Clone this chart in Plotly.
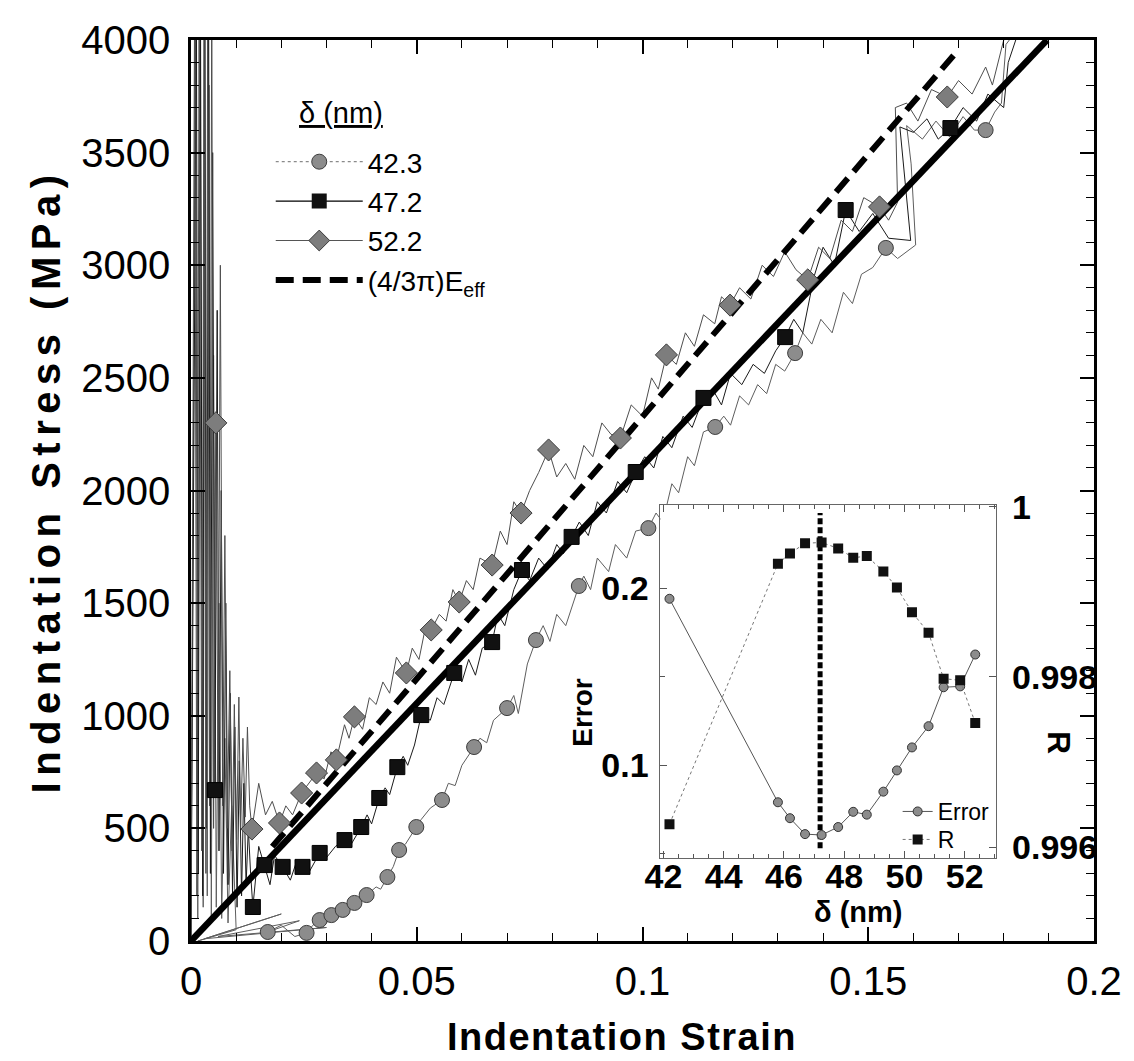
import plotly.graph_objects as go

FONT = "Liberation Sans, Arial, sans-serif"

# ---------------- main panel: stress-strain curves ----------------
# delta = 42.3 nm (gray circles)
s423_line_x = [0, 0.0010, 0.0015, 0.0020, 0.0027, 0.0031, 0.0036, 0.0040, 0.0045, 0.0050, 0.0056,
               0.0062, 0.0068, 0.0075, 0.0082, 0.0090, 0.0100, 0.0015, 0.020, 0.003, 0.030,
               0.006, 0.024, 0.0170, 0.020, 0.023, 0.0256, 0.027, 0.0285, 0.030, 0.0311, 0.032, 0.0336,
               0.035, 0.0362, 0.0375, 0.0389, 0.041, 0.042, 0.0435, 0.0448, 0.0461, 0.0475, 0.0499,
               0.051, 0.053, 0.0556, 0.057, 0.0585, 0.060, 0.0627, 0.064, 0.0655, 0.067, 0.0700, 0.0715,
               0.0725, 0.0745, 0.0764, 0.078, 0.0795, 0.081, 0.083, 0.0859, 0.087, 0.0885, 0.090, 0.0925,
               0.094, 0.0965, 0.0985, 0.1013, 0.103, 0.1045, 0.1065, 0.108, 0.110, 0.1115, 0.1135, 0.1161,
               0.118, 0.1195, 0.1215, 0.1235, 0.1255, 0.1275, 0.1295, 0.1315, 0.1338, 0.1355, 0.1375,
               0.1395, 0.142, 0.1445, 0.1465, 0.1485, 0.151, 0.1539, 0.1565, 0.1605, 0.1595, 0.1585,
               0.162, 0.165, 0.168, 0.171, 0.1735, 0.1760, 0.178, 0.1795, 0.1805, 0.182, 0.1850]
s423_line_y = [0, 4200, 100, 4200, 150, 4200, 200, 3800, 100, 2600, 150,
               1500, 100, 900, 80, 600, 50, 0, 120, 10, 60,
               20, 90, 40, 70, 20, 36, 70, 93, 80, 115, 110, 138,
               150, 169, 185, 204, 240, 230, 284, 330, 404, 430, 506,
               540, 590, 626, 700, 690, 780, 861, 900, 880, 980, 1034, 1090,
               1010, 1230, 1336, 1400, 1330, 1450, 1400, 1576, 1620, 1560, 1700, 1640,
               1760, 1700, 1820, 1833, 1900, 1860, 2030, 1990, 2150, 2110, 2260, 2282,
               2330, 2290, 2420, 2380, 2470, 2430, 2560, 2530, 2610, 2700, 2650,
               2760, 2700, 2880, 2830, 2960, 2990, 3077, 3030, 3090, 3450, 3620,
               3560, 3640, 3570, 3660, 3600, 3600, 3680, 3720, 3980, 4020, 4020]
s423_mark_x = [0.0170, 0.0256, 0.0285, 0.0311, 0.0336, 0.0362, 0.0389, 0.0435, 0.0461, 0.0499,
               0.0556, 0.0627, 0.0700, 0.0764, 0.0859, 0.1013, 0.1161, 0.1338, 0.1539, 0.1760]
s423_mark_y = [40, 36, 93, 115, 138, 169, 204, 284, 404, 506,
               626, 861, 1034, 1336, 1576, 1833, 2282, 2610, 3077, 3600]

# delta = 47.2 nm (black squares)
s472_line_x = [0, 0.0012, 0.0016, 0.0021, 0.0026, 0.0030, 0.0034, 0.0039, 0.0043, 0.0048, 0.0053,
               0.0058, 0.0062, 0.0067, 0.0072, 0.0077, 0.0082, 0.0087, 0.0092, 0.0097, 0.0102,
               0.0107, 0.0112, 0.0117, 0.0122, 0.0127, 0.0132, 0.0137, 0.0150, 0.0163, 0.0175,
               0.0185, 0.0203, 0.0220, 0.0235,
               0.0247, 0.0260, 0.0285, 0.0300, 0.0320, 0.0340, 0.0355, 0.0377, 0.0390, 0.0400, 0.0417,
               0.0430, 0.0440, 0.0457, 0.0470, 0.0480, 0.0495, 0.0510, 0.0530, 0.0545, 0.0560, 0.0583,
               0.0600, 0.0615, 0.0630, 0.0645, 0.0667, 0.0680, 0.0695, 0.0715, 0.0733, 0.0750, 0.0770,
               0.0790, 0.0810, 0.0825, 0.0843, 0.0860, 0.0880, 0.0900, 0.0920, 0.0945, 0.0965, 0.0985,
               0.1005, 0.1025, 0.1045, 0.1065, 0.1090, 0.1110, 0.1135, 0.1155, 0.1175, 0.1195, 0.1220,
               0.1245, 0.1270, 0.1295, 0.1316, 0.1335, 0.1355, 0.1380, 0.1400, 0.1425, 0.1450, 0.1480,
               0.1510, 0.1545, 0.1594, 0.1570, 0.1600, 0.1630, 0.1655, 0.1682, 0.1710, 0.1740, 0.1765,
               0.1800, 0.1810, 0.1830]
s472_line_y = [0, 4200, 300, 4200, 200, 4200, 500, 4200, 300, 3500, 670,
               2800, 400, 2000, 300, 1500, 250, 1100, 200, 950, 150,
               800, 200, 700, 250, 500, 300, 151, 420, 337, 250,
               380, 329, 270, 360,
               329, 300, 391, 370, 420, 448, 430, 506, 560, 520, 635,
               680, 650, 772, 820, 780, 870, 1003, 980, 1080, 1050, 1190,
               1150, 1250, 1180, 1300, 1327, 1450, 1400, 1560, 1647, 1600, 1700,
               1650, 1760, 1720, 1794, 1860, 1800, 1950, 1900, 2040, 1990, 2082,
               2150, 2100, 2240, 2190, 2330, 2280, 2411, 2450, 2380, 2520, 2470,
               2560, 2520, 2620, 2681, 2760, 2700, 2950, 3080, 3000, 3245, 3150,
               3230, 3120, 3110, 3614, 3590, 3650, 3560, 3609, 3700, 3640, 3760,
               3700, 3900, 4020]
s472_mark_x = [0.0053, 0.0137, 0.0163, 0.0203, 0.0247, 0.0285, 0.0340, 0.0377, 0.0417, 0.0457,
               0.0510, 0.0583, 0.0667, 0.0733, 0.0843, 0.0985, 0.1135, 0.1316, 0.1450, 0.1682]
s472_mark_y = [670, 151, 337, 329, 329, 391, 448, 506, 635, 772,
               1003, 1190, 1327, 1647, 1794, 2082, 2411, 2681, 3245, 3609]

# delta = 52.2 nm (gray diamonds)
s522_line_x = [0, 0.0008, 0.0013, 0.0018, 0.0024, 0.0029, 0.0033, 0.0037, 0.0041, 0.0046, 0.0050,
               0.0055, 0.0060, 0.0065, 0.0070, 0.0075, 0.0080, 0.0086, 0.0091, 0.0096, 0.0101,
               0.0106, 0.0110, 0.0115, 0.0120, 0.0125, 0.0130, 0.0135, 0.0150, 0.0165, 0.0180,
               0.0196, 0.0210, 0.0225, 0.0245, 0.0260, 0.0278, 0.0295,
               0.0310, 0.0322, 0.0340, 0.0350, 0.0362, 0.0380, 0.0395, 0.0410, 0.0425, 0.0440, 0.0455,
               0.0477, 0.0490, 0.0505, 0.0520, 0.0532, 0.0550, 0.0565, 0.0580, 0.0594, 0.0610, 0.0625,
               0.0640, 0.0667, 0.0685, 0.0700, 0.0715, 0.0731, 0.0750, 0.0770, 0.0792, 0.0810, 0.0830,
               0.0850, 0.0870, 0.0890, 0.0910, 0.0930, 0.0951, 0.0975, 0.1000, 0.1020, 0.1035, 0.1053,
               0.1075, 0.1095, 0.1115, 0.1135, 0.1160, 0.1175, 0.1194, 0.1215, 0.1240, 0.1265, 0.1290,
               0.1315, 0.1340, 0.1366, 0.1390, 0.1415, 0.1440, 0.1465, 0.1490, 0.1525, 0.1545, 0.1565,
               0.1560, 0.1585, 0.1610, 0.1640, 0.1675, 0.1700, 0.1730, 0.1760, 0.1775, 0.1800, 0.1820]
s522_line_y = [0, 4200, 200, 4200, 400, 4200, 300, 4200, 600, 4200, 500,
               2300, 700, 3000, 600, 1800, 500, 1200, 400, 1050, 450,
               1083, 500, 900, 550, 950, 600, 497, 700, 560, 620,
               524, 600, 560, 657, 700, 746, 720,
               840, 804, 960, 900, 995, 940, 1080, 1050, 1150, 1100, 1260,
               1190, 1300, 1250, 1400, 1381, 1450, 1420, 1560, 1505, 1600, 1560,
               1700, 1669, 1820, 1760, 1950, 1900, 2000, 2080, 2180, 2060, 2120,
               2050, 2200, 2150, 2300, 2250, 2233, 2380, 2330, 2500, 2450, 2602,
               2560, 2700, 2640, 2780, 2740, 2860, 2823, 2900, 2850, 3000, 2950,
               3060, 2980, 2935, 3080, 3030, 3200, 3150, 3300, 3259, 3200, 3280,
               3700, 3720, 3640, 3780, 3747, 3820, 3760, 3880, 3800, 4000, 4020]
s522_mark_x = [0.0055, 0.0135, 0.0196, 0.0245, 0.0278, 0.0322, 0.0362, 0.0477, 0.0532, 0.0594,
               0.0667, 0.0731, 0.0792, 0.0951, 0.1053, 0.1194, 0.1366, 0.1525, 0.1675]
s522_mark_y = [2300, 497, 524, 657, 746, 804, 995, 1190, 1381, 1505,
               1669, 1900, 2180, 2233, 2602, 2823, 2935, 3259, 3747]

# linear fits through the origin
fit_x = [0, 0.1896]
fit_y = [0, 4000]
eeff_x = [0.018, 0.170]
eeff_y = [419, 3957]

# ---------------- inset: error and correlation vs delta ----------------
delta_nm = [42.2, 45.8, 46.2, 46.7, 47.25, 47.8, 48.3, 48.75, 49.3, 49.75, 50.25, 50.8, 51.3, 51.85, 52.35]
error_vals = [0.194, 0.079, 0.070, 0.061, 0.0605, 0.065, 0.0736, 0.072, 0.085, 0.097,
              0.110, 0.122, 0.144, 0.1445, 0.1625]
r_vals = [0.99627, 0.99933, 0.99945, 0.99957, 0.99958, 0.99951, 0.99940, 0.99942, 0.99924,
          0.99905, 0.99876, 0.99852, 0.99798, 0.99796, 0.99746]
best_delta = 47.2
best_line_err = [0.053, 0.2425]

legend_names = ["42.3", "47.2", "52.2"]

fig = go.Figure()

GRAY_C = "#8c8c8c"
GRAY_D = "#7d7d7d"

# noisy curves
fig.add_trace(go.Scatter(x=s423_line_x, y=s423_line_y, mode="lines",
                         line=dict(color="#5e5e5e", width=1), showlegend=False))
fig.add_trace(go.Scatter(x=s472_line_x, y=s472_line_y, mode="lines",
                         line=dict(color="#1a1a1a", width=1), showlegend=False))
fig.add_trace(go.Scatter(x=s522_line_x, y=s522_line_y, mode="lines",
                         line=dict(color="#4e4e4e", width=1), showlegend=False))

# fit lines
fig.add_trace(go.Scatter(x=eeff_x, y=eeff_y, mode="lines",
                         line=dict(color="black", width=6, dash="18px,9px"), showlegend=False))
fig.add_trace(go.Scatter(x=fit_x, y=fit_y, mode="lines",
                         line=dict(color="black", width=6.5), showlegend=False))

# markers
fig.add_trace(go.Scatter(x=s423_mark_x, y=s423_mark_y, mode="markers", showlegend=False,
                         marker=dict(symbol="circle", size=15, color=GRAY_C,
                                     line=dict(color="#3c3c3c", width=1))))
fig.add_trace(go.Scatter(x=s472_mark_x, y=s472_mark_y, mode="markers", showlegend=False,
                         marker=dict(symbol="square", size=15, color="#111111",
                                     line=dict(color="black", width=1))))
fig.add_trace(go.Scatter(x=s522_mark_x, y=s522_mark_y, mode="markers", showlegend=False,
                         marker=dict(symbol="diamond", size=17, color=GRAY_D,
                                     line=dict(color="#3c3c3c", width=1))))

# legend entries for the main panel
fig.add_trace(go.Scatter(x=[None], y=[None], mode="lines+markers", name=legend_names[0],
                         line=dict(color="#8a8a8a", width=1.2, dash="dot"),
                         marker=dict(symbol="circle", size=15, color=GRAY_C,
                                     line=dict(color="#3c3c3c", width=1))))
fig.add_trace(go.Scatter(x=[None], y=[None], mode="lines+markers", name=legend_names[1],
                         line=dict(color="black", width=1.2),
                         marker=dict(symbol="square", size=15, color="#111111")))
fig.add_trace(go.Scatter(x=[None], y=[None], mode="lines+markers", name=legend_names[2],
                         line=dict(color="#555555", width=1.2),
                         marker=dict(symbol="diamond", size=17, color=GRAY_D,
                                     line=dict(color="#3c3c3c", width=1))))
fig.add_trace(go.Scatter(x=[None], y=[None], mode="lines", name="(4/3\u03c0)E<sub>eff</sub>",
                         line=dict(color="black", width=6, dash="18px,9px")))

# inset traces
fig.add_trace(go.Scatter(x=[best_delta, best_delta], y=best_line_err, xaxis="x2", yaxis="y2",
                         mode="lines", line=dict(color="black", width=5, dash="6px,3px"),
                         showlegend=False))
fig.add_trace(go.Scatter(x=delta_nm, y=error_vals, xaxis="x2", yaxis="y2", mode="lines+markers",
                         name="Error", legend="legend2",
                         line=dict(color="#555555", width=1),
                         marker=dict(symbol="circle", size=9, color="#8c8c8c",
                                     line=dict(color="#333333", width=1))))
fig.add_trace(go.Scatter(x=delta_nm, y=r_vals, xaxis="x2", yaxis="y3", mode="lines+markers",
                         name="R", legend="legend3",
                         line=dict(color="#777777", width=1, dash="dot"),
                         marker=dict(symbol="square", size=10, color="#111111")))

W, H = 1134, 1061
L, R, T, B = 191, 1097, 40, 941


def px_x(p):
    return (p - L) / (R - L)


def px_y(p):
    return (B - p) / (B - T)


axis_common = dict(showgrid=False, zeroline=False, showline=True, linecolor="black",
                   linewidth=2.5, mirror="ticks", ticks="inside", tickcolor="black",
                   tickwidth=1.5, ticklen=14,
                   tickfont=dict(family=FONT, size=40, color="black"))

inset_font = dict(family=FONT, size=34, color="black", weight="bold")

fig.update_layout(
    width=W, height=H,
    margin=dict(l=L, r=W - R, t=T, b=H - B),
    paper_bgcolor="white", plot_bgcolor="white",
    font=dict(family=FONT, color="black"),
    xaxis=dict(range=[0, 0.2], dtick=0.05, tick0=0, ticklabelstandoff=3,
               minor=dict(dtick=0.01, ticks="inside", ticklen=8, tickcolor="black", tickwidth=1.2),
               **axis_common),
    yaxis=dict(range=[0, 4000], dtick=500, tick0=0, ticklabelstandoff=10,
               minor=dict(dtick=100, ticks="inside", ticklen=8, tickcolor="black", tickwidth=1.2),
               **axis_common),
    xaxis2=dict(domain=[px_x(662), px_x(999)], anchor="y2", range=[41.9, 53.05],
                tickvals=[42, 44, 46, 48, 50, 52], showgrid=False, zeroline=False,
                showline=True, linecolor="#666666", linewidth=1, mirror="ticks",
                ticks="inside", ticklen=7, tickcolor="#555555", tickwidth=1,
                minor=dict(dtick=0.5, ticks="inside", ticklen=4, tickcolor="#555555"),
                ticklabelstandoff=-12, tickfont=inset_font),
    yaxis2=dict(domain=[px_y(858), px_y(505)], anchor="x2", range=[0.0475, 0.247],
                tickvals=[0.1, 0.2], showgrid=False, zeroline=False, showline=True,
                linecolor="#666666", linewidth=1, ticks="inside", ticklen=7,
                tickcolor="#555555",
                minor=dict(tick0=0, dtick=0.05, ticks="inside", ticklen=5, tickcolor="#555555"),
                ticklabelstandoff=4, tickfont=inset_font),
    yaxis3=dict(domain=[px_y(858), px_y(505)], anchor="x2", overlaying="y2", side="right",
                range=[0.995873, 1.00002], tickvals=[0.996, 0.998, 1.0],
                ticktext=["0.996", "0.998", "1"], showgrid=False, zeroline=False,
                showline=True, linecolor="#666666", linewidth=1, ticks="inside",
                ticklen=7, tickcolor="#555555", ticklabelstandoff=8, tickfont=inset_font),
    legend=dict(x=px_x(271), y=px_y(137), xanchor="left", yanchor="top",
                bgcolor="rgba(0,0,0,0)", borderwidth=0, itemwidth=87,
                font=dict(family=FONT, size=28, color="black"), tracegroupgap=0),
    legend2=dict(x=px_x(900), y=px_y(790), xanchor="left", yanchor="top",
                 bgcolor="rgba(0,0,0,0)", borderwidth=0, itemwidth=30,
                 font=dict(family=FONT, size=23, color="black")),
    legend3=dict(x=px_x(900), y=px_y(818), xanchor="left", yanchor="top",
                 bgcolor="rgba(0,0,0,0)", borderwidth=0, itemwidth=30,
                 font=dict(family=FONT, size=23, color="black")),
    showlegend=True,
)


def label(text, cx, cy, size, angle=0, yanchor="middle"):
    return dict(text=text, x=px_x(cx), y=px_y(cy), xref="paper", yref="paper",
                xanchor="center", yanchor=yanchor, textangle=angle, showarrow=False,
                font=dict(family=FONT, size=size, color="black"))


annotations = [
    label("<b><span style='letter-spacing:1.5px'>Indentation Strain</span></b>", 623, 1060, 38,
          yanchor="bottom"),
    label("<b><span style='letter-spacing:6.5px'>Indentation Stress (MPa)</span></b>",
          46, 481, 40, -90),
    label("<u>\u03b4 (nm)</u>", 341, 113, 29),
    label("<b>Error</b>", 583, 712, 28, -90),
    label("<b>R</b>", 1062, 742, 32, 90),
    label("<b>\u03b4 (nm)</b>", 860, 912, 29),
]
fig.update_layout(annotations=annotations)

fig.write_html("out.html")
